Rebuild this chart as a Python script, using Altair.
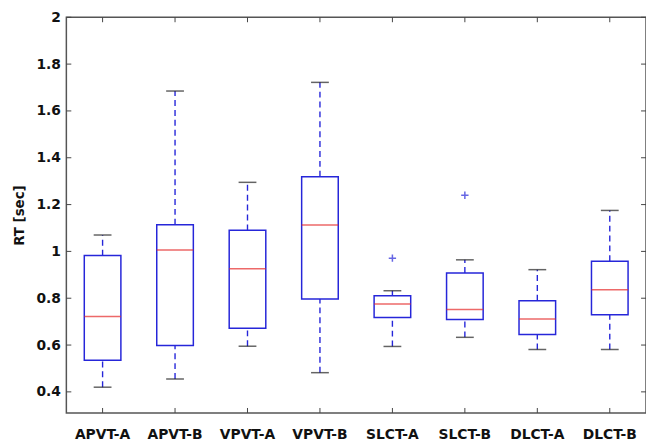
import altair as alt
import pandas as pd

cats = ["APVT-A", "APVT-B", "VPVT-A", "VPVT-B", "SLCT-A", "SLCT-B", "DLCT-A", "DLCT-B"]
lo = [0.42, 0.455, 0.595, 0.482, 0.594, 0.633, 0.581, 0.581]
q1 = [0.535, 0.598, 0.672, 0.797, 0.718, 0.709, 0.645, 0.729]
med = [0.722, 1.006, 0.926, 1.113, 0.775, 0.752, 0.711, 0.836]
q3 = [0.982, 1.114, 1.090, 1.319, 0.811, 0.908, 0.789, 0.958]
hi = [1.070, 1.685, 1.295, 1.722, 0.832, 0.964, 0.922, 1.175]
out_cats = ["SLCT-A", "SLCT-B"]
out_vals = [0.971, 1.240]
yticks = [0.4, 0.6, 0.8, 1.0, 1.2, 1.4, 1.6, 1.8, 2.0]

W, H = 586, 400
BLUE = "#2626d9"
RED = "#e62a2a"
FONT = "DejaVu Sans"

df = pd.DataFrame({"cat": cats, "lo": lo, "q1": q1, "med": med, "q3": q3, "hi": hi})
dout = pd.DataFrame({"cat": out_cats, "v": out_vals})
dticks = pd.DataFrame({"t": yticks})

xscale = alt.Scale(domain=cats, paddingInner=0, paddingOuter=0)
yscale = alt.Scale(domain=[0.31, 2.0], nice=False, zero=False)

xaxis = alt.Axis(title=None, ticks=False, domain=False, labelFont=FONT, labelFontSize=14,
                 labelFontWeight="bold", labelColor="#111", labelPadding=15, labelAngle=0)
yaxis = alt.Axis(title="RT [sec]", values=yticks, format="~g", ticks=False, domain=False,
                 grid=False, labelFont=FONT, labelFontSize=14, labelFontWeight="bold",
                 labelColor="#111", labelPadding=6, titleFont=FONT, titleFontSize=13.5,
                 titleFontWeight="bold", titleColor="#111", titlePadding=10)

X = alt.X("cat:N", scale=xscale, axis=xaxis, sort=cats)
base = alt.Chart(df)

upper_wh = base.mark_rule(color=BLUE, strokeWidth=1.4, strokeDash=[6, 4]).encode(
    x=X, y=alt.Y("q3:Q", scale=yscale, axis=yaxis), y2="hi:Q")
lower_wh = base.mark_rule(color=BLUE, strokeWidth=1.4, strokeDash=[6, 4]).encode(
    x=X, y=alt.Y("lo:Q", scale=yscale), y2="q1:Q")
box = base.mark_bar(size=37, fill="white", stroke=BLUE, strokeWidth=1.5).encode(
    x=X, y=alt.Y("q1:Q", scale=yscale), y2="q3:Q")
median = base.mark_tick(size=37, thickness=1.5, color=RED).encode(
    x=X, y=alt.Y("med:Q", scale=yscale))
cap_hi = base.mark_tick(size=18, thickness=1.5, color="#222").encode(
    x=X, y=alt.Y("hi:Q", scale=yscale))
cap_lo = base.mark_tick(size=18, thickness=1.5, color="#222").encode(
    x=X, y=alt.Y("lo:Q", scale=yscale))
outl = alt.Chart(dout).mark_point(shape="M-1,0L1,0M0,-1L0,1", size=55, filled=False,
                                  stroke=BLUE, strokeWidth=1.5).encode(
    x=alt.X("cat:N", scale=xscale, sort=cats), y=alt.Y("v:Q", scale=yscale))

tk = alt.Chart(dticks)
lt = tk.mark_rule(color="#444", strokeWidth=1).encode(
    x=alt.value(0), x2=alt.value(5), y=alt.Y("t:Q", scale=yscale))
rt = tk.mark_rule(color="#444", strokeWidth=1).encode(
    x=alt.value(W - 5), x2=alt.value(W), y=alt.Y("t:Q", scale=yscale))
bt = base.mark_rule(color="#444", strokeWidth=1).encode(
    x=alt.X("cat:N", scale=xscale, sort=cats), y=alt.value(H - 5), y2=alt.value(H))
tt = base.mark_rule(color="#444", strokeWidth=1).encode(
    x=alt.X("cat:N", scale=xscale, sort=cats), y=alt.value(0), y2=alt.value(5))

chart = alt.layer(upper_wh, lower_wh, box, median, cap_hi, cap_lo, outl, lt, rt, bt, tt).properties(
    width=W, height=H,
    autosize=alt.AutoSizeParams(type="none"),
    padding={"left": 59, "top": 7, "right": 0, "bottom": 28},
    background="white",
).configure_view(stroke="#555", strokeWidth=1.5)

chart.save("out.html", embed_options={"renderer": "svg", "actions": False})
